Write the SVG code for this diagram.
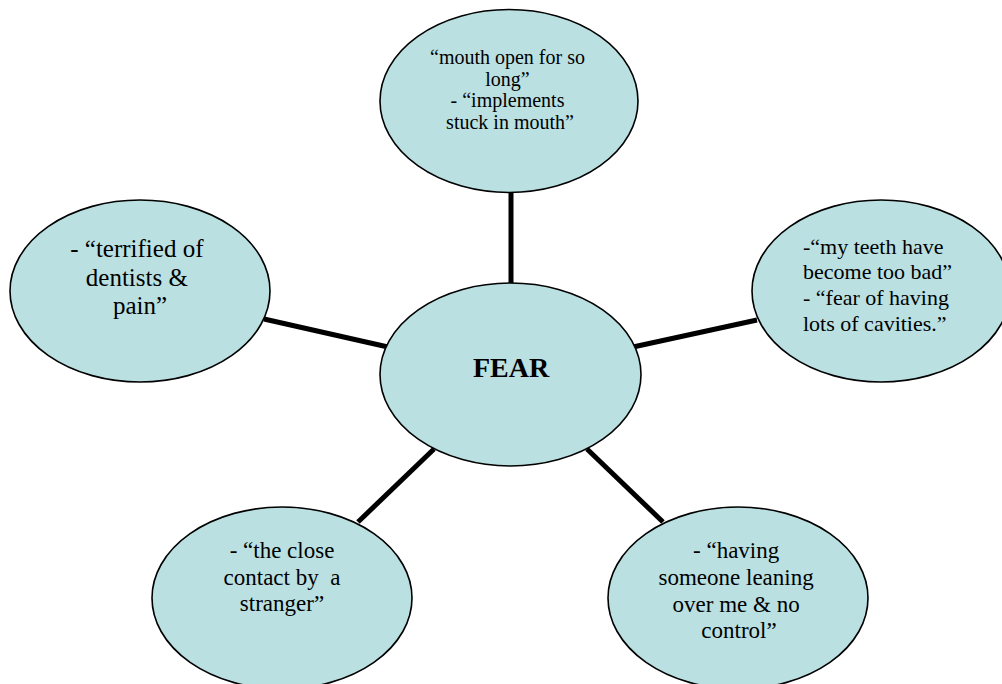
<svg xmlns="http://www.w3.org/2000/svg" width="1002" height="684" viewBox="0 0 1002 684">
<style>
.bg{fill:#ffffff}
.node{fill:#BAE0E2;stroke:#000000;stroke-width:1.6}
.conn{stroke:#000000;stroke-width:5;stroke-linecap:butt;fill:none}
text{font-family:'Liberation Serif','Tinos','Times New Roman',Times,'DejaVu Serif','Noto Serif',serif;fill:#000000}
.c{text-anchor:middle}
</style>
<rect class="bg" x="0" y="0" width="1002" height="684"/>
<g id="connectors">
<line class="conn" x1="511" y1="192" x2="511" y2="284"/>
<line class="conn" x1="264" y1="319" x2="388" y2="347"/>
<line class="conn" x1="633" y1="347" x2="757" y2="320"/>
<line class="conn" x1="434" y1="449" x2="358" y2="522"/>
<line class="conn" x1="587" y1="449" x2="663" y2="522"/>
</g>
<g id="node-fear">
<ellipse class="node" cx="510.5" cy="374.5" rx="130.5" ry="91.5"/>
<text class="c" font-family="Liberation Serif, DejaVu Serif, serif" x="511" y="377" font-size="28" font-weight="bold">FEAR</text>
</g>
<g id="node-top">
<ellipse class="node" cx="509" cy="101" rx="129" ry="91.5"/>
<text class="c" font-family="Liberation Serif, DejaVu Serif, serif" font-size="20">
<tspan x="510" y="64">“mouth open for so</tspan>
<tspan x="510" y="86">long”</tspan>
<tspan x="510" y="107">- “implements</tspan>
<tspan x="510" y="129">stuck in mouth”</tspan>
</text>
</g>
<g id="node-left">
<ellipse class="node" cx="140" cy="291" rx="130" ry="91"/>
<text class="c" font-family="Liberation Serif, DejaVu Serif, serif" font-size="25">
<tspan x="140" y="257">- “terrified of</tspan>
<tspan x="140" y="286">dentists &amp;</tspan>
<tspan x="140" y="314">pain”</tspan>
</text>
</g>
<g id="node-right">
<ellipse class="node" cx="881" cy="291" rx="129" ry="91"/>
<text font-family="Liberation Serif, DejaVu Serif, serif" font-size="22">
<tspan x="803" y="254">-“my teeth have</tspan>
<tspan x="803" y="279">become too bad”</tspan>
<tspan x="803" y="305">- “fear of having</tspan>
<tspan x="803" y="331">lots of cavities.”</tspan>
</text>
</g>
<g id="node-bottom-left">
<ellipse class="node" cx="282" cy="598" rx="130" ry="91"/>
<text class="c" font-family="Liberation Serif, DejaVu Serif, serif" font-size="23" xml:space="preserve" style="white-space:pre"><tspan x="282" y="558">- “the close</tspan><tspan x="282" y="585">contact by  a</tspan><tspan x="282" y="611">stranger”</tspan></text>
</g>
<g id="node-bottom-right">
<ellipse class="node" cx="738" cy="598" rx="130" ry="91"/>
<text class="c" font-family="Liberation Serif, DejaVu Serif, serif" font-size="23">
<tspan x="739" y="558">- “having</tspan>
<tspan x="739" y="585">someone leaning</tspan>
<tspan x="739" y="612">over me &amp; no</tspan>
<tspan x="739" y="638">control”</tspan>
</text>
</g>
</svg>
